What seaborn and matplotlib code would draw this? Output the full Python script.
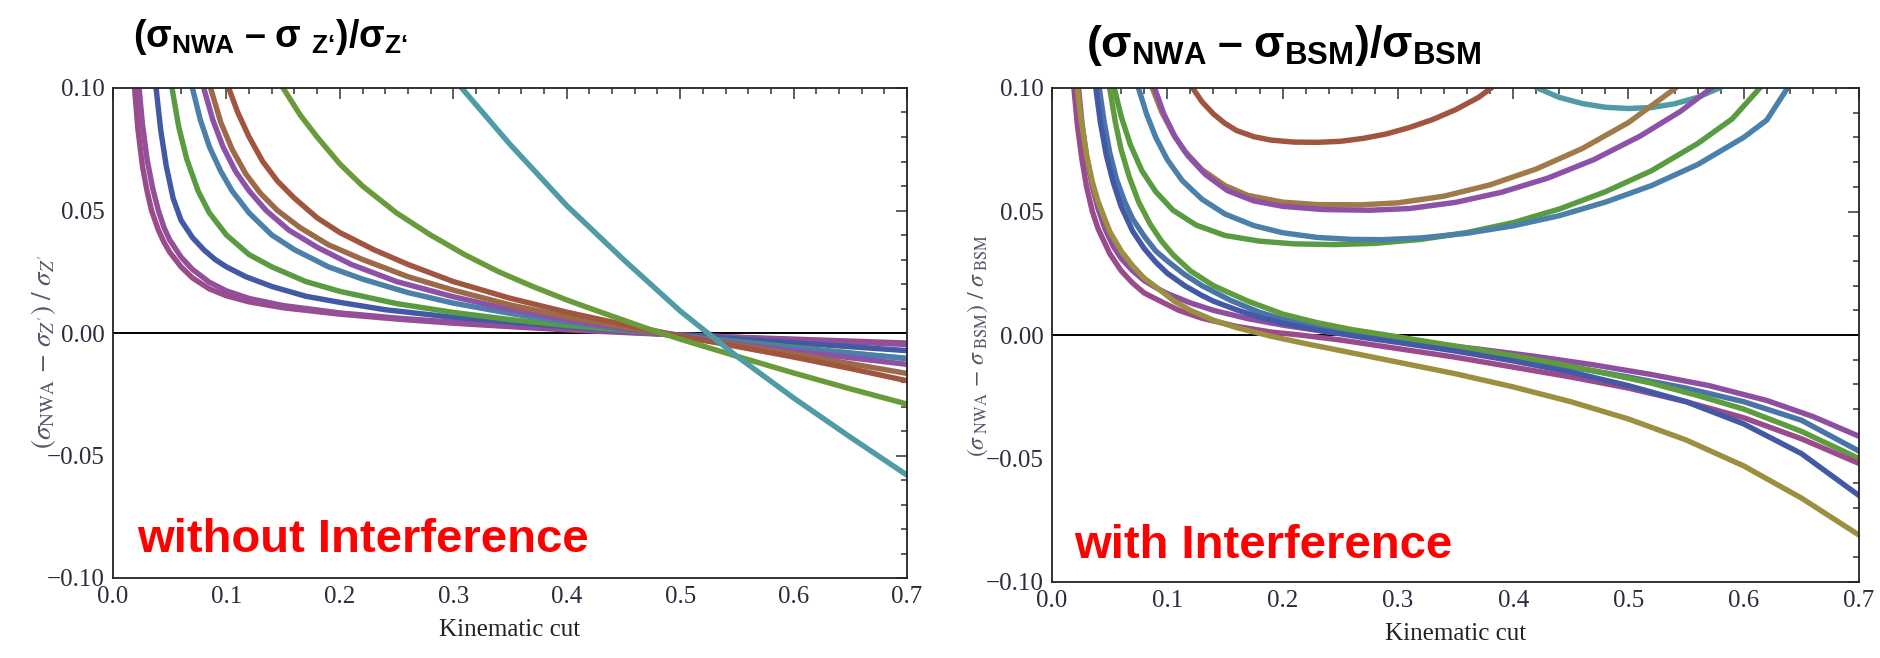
import numpy as np
import pandas as pd
import matplotlib
matplotlib.use("Agg")
import matplotlib.pyplot as plt
import seaborn as sns
from matplotlib.ticker import MultipleLocator, FuncFormatter

# ---------------- data: left panel (without interference) ----------------
L_magenta1_x = [0.017, 0.019, 0.022, 0.026, 0.03, 0.034, 0.04, 0.045, 0.05, 0.06, 0.07, 0.085, 0.1, 0.12, 0.15, 0.2, 0.25, 0.3, 0.35, 0.4, 0.46, 0.5, 0.55, 0.6, 0.65, 0.7]
L_magenta1_y = [0.115, 0.1, 0.083, 0.068, 0.058, 0.05, 0.042, 0.037, 0.033, 0.027, 0.0225, 0.018, 0.0152, 0.0127, 0.0103, 0.0077, 0.0057, 0.0040, 0.0026, 0.0013, 0.0, -0.0008, -0.0017, -0.0025, -0.0033, -0.0041]
L_magenta2_x = [0.021, 0.023, 0.026, 0.03, 0.035, 0.04, 0.045, 0.05, 0.06, 0.07, 0.085, 0.1, 0.12, 0.15, 0.2, 0.25, 0.3, 0.35, 0.4, 0.46, 0.5, 0.55, 0.6, 0.65, 0.7]
L_magenta2_y = [0.113, 0.1, 0.085, 0.071, 0.059, 0.05, 0.043, 0.038, 0.031, 0.026, 0.0207, 0.0172, 0.0141, 0.0112, 0.0082, 0.0061, 0.0044, 0.0029, 0.0016, 0.0002, -0.0008, -0.0018, -0.0028, -0.0037, -0.0047]
L_blue_x = [0.034, 0.038, 0.042, 0.047, 0.053, 0.06, 0.07, 0.08, 0.09, 0.1, 0.117, 0.14, 0.17, 0.2, 0.24, 0.3, 0.35, 0.4, 0.46, 0.5, 0.55, 0.6, 0.65, 0.7]
L_blue_y = [0.112, 0.1, 0.083, 0.068, 0.055, 0.046, 0.039, 0.034, 0.030, 0.027, 0.023, 0.019, 0.015, 0.0125, 0.0095, 0.0064, 0.0044, 0.0026, 0.0006, -0.0008, -0.0024, -0.0040, -0.0056, -0.0072]
L_green_x = [0.048, 0.052, 0.058, 0.065, 0.075, 0.085, 0.1, 0.12, 0.14, 0.17, 0.2, 0.25, 0.3, 0.35, 0.4, 0.45, 0.5, 0.55, 0.6, 0.65, 0.7]
L_green_y = [0.113, 0.1, 0.084, 0.071, 0.058, 0.049, 0.040, 0.032, 0.027, 0.021, 0.017, 0.012, 0.0084, 0.0055, 0.0031, 0.0011, -0.0012, -0.0035, -0.0058, -0.0081, -0.0105]
L_steel_x = [0.065, 0.07, 0.077, 0.085, 0.095, 0.105, 0.12, 0.14, 0.16, 0.19, 0.22, 0.26, 0.3, 0.35, 0.4, 0.45, 0.5, 0.55, 0.6, 0.65, 0.7]
L_steel_y = [0.112, 0.1, 0.087, 0.076, 0.066, 0.058, 0.049, 0.040, 0.034, 0.027, 0.022, 0.0165, 0.0122, 0.0080, 0.0045, 0.0015, -0.0013, -0.0038, -0.0061, -0.0083, -0.0103]
L_purple_x = [0.075, 0.08, 0.088, 0.097, 0.108, 0.12, 0.135, 0.155, 0.18, 0.21, 0.25, 0.3, 0.35, 0.4, 0.45, 0.5, 0.55, 0.6, 0.65, 0.7]
L_purple_y = [0.112, 0.1, 0.087, 0.076, 0.066, 0.058, 0.050, 0.042, 0.035, 0.028, 0.021, 0.0148, 0.0096, 0.0054, 0.0018, -0.0015, -0.0045, -0.0074, -0.0101, -0.0128]
L_gold_x = [0.081, 0.086, 0.095, 0.105, 0.117, 0.13, 0.145, 0.165, 0.19, 0.22, 0.26, 0.3, 0.35, 0.4, 0.45, 0.5, 0.55, 0.6, 0.65, 0.7]
L_gold_y = [0.112, 0.1, 0.086, 0.075, 0.065, 0.057, 0.050, 0.043, 0.036, 0.030, 0.023, 0.0175, 0.0115, 0.0066, 0.0025, -0.0015, -0.005, -0.0085, -0.0125, -0.0165]
L_brown_x = [0.097, 0.102, 0.11, 0.12, 0.132, 0.145, 0.16, 0.18, 0.2, 0.23, 0.26, 0.3, 0.35, 0.4, 0.45, 0.5, 0.55, 0.6, 0.65, 0.7]
L_brown_y = [0.108, 0.1, 0.090, 0.080, 0.070, 0.062, 0.055, 0.047, 0.041, 0.034, 0.028, 0.021, 0.0142, 0.0085, 0.0035, -0.0012, -0.0055, -0.0098, -0.0145, -0.0195]
L_green2_x = [0.14, 0.15, 0.165, 0.18, 0.2, 0.22, 0.25, 0.28, 0.31, 0.34, 0.37, 0.4, 0.43, 0.47, 0.5, 0.55, 0.6, 0.65, 0.7]
L_green2_y = [0.108, 0.1, 0.089, 0.080, 0.069, 0.060, 0.049, 0.040, 0.032, 0.025, 0.019, 0.0135, 0.0085, 0.002, -0.0025, -0.0095, -0.0163, -0.0228, -0.029]
L_cyan_x = [0.3, 0.35, 0.4, 0.45, 0.5, 0.55, 0.6, 0.65, 0.7]
L_cyan_y = [0.104, 0.077, 0.052, 0.030, 0.009, -0.0095, -0.0265, -0.0425, -0.058]

# ---------------- data: right panel (with interference) ----------------
# lower family
R_olive_x = [0.02, 0.022, 0.025, 0.03, 0.035, 0.04, 0.05, 0.06, 0.07, 0.08, 0.09, 0.106, 0.12, 0.14, 0.16, 0.19, 0.22, 0.25, 0.3, 0.35, 0.4, 0.45, 0.5, 0.55, 0.6, 0.65, 0.7]
R_olive_y = [0.110, 0.1, 0.088, 0.073, 0.062, 0.054, 0.042, 0.034, 0.028, 0.023, 0.0195, 0.0137, 0.0100, 0.0060, 0.0030, -0.0005, -0.0035, -0.0063, -0.011, -0.0157, -0.021, -0.027, -0.034, -0.0425, -0.053, -0.066, -0.081]
R_magenta_x = [0.017, 0.019, 0.022, 0.026, 0.03, 0.035, 0.04, 0.05, 0.06, 0.07, 0.08, 0.094, 0.11, 0.13, 0.16, 0.19, 0.215, 0.25, 0.3, 0.35, 0.4, 0.45, 0.5, 0.55, 0.6, 0.65, 0.7]
R_magenta_y = [0.112, 0.1, 0.085, 0.071, 0.060, 0.050, 0.043, 0.033, 0.026, 0.021, 0.017, 0.0137, 0.0100, 0.0068, 0.0035, 0.0012, 0.0, -0.0020, -0.0055, -0.0090, -0.0130, -0.0170, -0.0215, -0.0270, -0.0335, -0.042, -0.052]
R_purple_x = [0.021, 0.023, 0.026, 0.03, 0.035, 0.04, 0.046, 0.053, 0.06, 0.07, 0.08, 0.09, 0.1, 0.12, 0.14, 0.17, 0.2, 0.24, 0.28, 0.32, 0.37, 0.42, 0.47, 0.52, 0.57, 0.62, 0.66, 0.7]
R_purple_y = [0.112, 0.1, 0.086, 0.072, 0.060, 0.051, 0.043, 0.036, 0.031, 0.026, 0.022, 0.0192, 0.0168, 0.0130, 0.0100, 0.0066, 0.0040, 0.0012, -0.0008, -0.0030, -0.0057, -0.0087, -0.0121, -0.0160, -0.0205, -0.0265, -0.0330, -0.041]
R_blue_x = [0.035, 0.038, 0.042, 0.047, 0.053, 0.06, 0.07, 0.08, 0.09, 0.1, 0.115, 0.13, 0.14, 0.16, 0.18, 0.2, 0.23, 0.27, 0.3, 0.35, 0.4, 0.45, 0.5, 0.55, 0.6, 0.65, 0.7]
R_blue_y = [0.112, 0.1, 0.086, 0.073, 0.062, 0.052, 0.042, 0.035, 0.0295, 0.025, 0.020, 0.016, 0.0137, 0.0102, 0.0072, 0.0048, 0.0020, -0.0010, -0.0030, -0.0065, -0.0105, -0.0150, -0.0205, -0.027, -0.036, -0.048, -0.065]
R_steel_x = [0.038, 0.041, 0.045, 0.05, 0.056, 0.063, 0.07, 0.08, 0.09, 0.1, 0.115, 0.13, 0.155, 0.18, 0.2, 0.23, 0.26, 0.285, 0.32, 0.36, 0.4, 0.45, 0.5, 0.55, 0.6, 0.65, 0.7]
R_steel_y = [0.112, 0.1, 0.087, 0.074, 0.063, 0.054, 0.047, 0.040, 0.034, 0.030, 0.0245, 0.020, 0.0140, 0.0092, 0.0064, 0.0033, 0.0011, -0.0005, -0.0030, -0.0060, -0.0090, -0.0130, -0.0170, -0.0215, -0.0270, -0.0345, -0.047]
R_green_x = [0.047, 0.05, 0.055, 0.06, 0.067, 0.075, 0.085, 0.095, 0.105, 0.12, 0.14, 0.17, 0.2, 0.23, 0.26, 0.29, 0.33, 0.37, 0.42, 0.47, 0.52, 0.56, 0.6, 0.65, 0.7]
R_green_y = [0.112, 0.1, 0.086, 0.075, 0.064, 0.054, 0.045, 0.038, 0.0325, 0.026, 0.020, 0.0137, 0.0085, 0.0050, 0.0022, 0.0, -0.0030, -0.0060, -0.0100, -0.0145, -0.0195, -0.0245, -0.030, -0.039, -0.050]
# upper U-shaped family
R_ubrown_x = [0.115, 0.122, 0.13, 0.14, 0.15, 0.16, 0.175, 0.19, 0.21, 0.23, 0.25, 0.27, 0.29, 0.31, 0.33, 0.35, 0.37, 0.381, 0.39]
R_ubrown_y = [0.106, 0.1, 0.0945, 0.0895, 0.0857, 0.0828, 0.0803, 0.0789, 0.0781, 0.0780, 0.0784, 0.0796, 0.0814, 0.0840, 0.0872, 0.0912, 0.0962, 0.1, 0.104]
R_ucyan_x = [0.41, 0.421, 0.44, 0.46, 0.48, 0.5, 0.52, 0.54, 0.56, 0.579, 0.59]
R_ucyan_y = [0.103, 0.1, 0.0962, 0.0937, 0.0922, 0.0917, 0.0921, 0.0936, 0.0962, 0.1, 0.103]
R_ugold_x = [0.082, 0.087, 0.095, 0.105, 0.115, 0.13, 0.15, 0.17, 0.2, 0.23, 0.268, 0.3, 0.34, 0.38, 0.42, 0.46, 0.5, 0.541, 0.55]
R_ugold_y = [0.108, 0.1, 0.0905, 0.0815, 0.0745, 0.0670, 0.0605, 0.0565, 0.0538, 0.0528, 0.0527, 0.0535, 0.0562, 0.0608, 0.0672, 0.0755, 0.0860, 0.1, 0.104]
R_upurple_x = [0.084, 0.089, 0.097, 0.107, 0.118, 0.133, 0.152, 0.175, 0.2, 0.235, 0.275, 0.31, 0.35, 0.39, 0.43, 0.47, 0.51, 0.545, 0.572, 0.58]
R_upurple_y = [0.108, 0.1, 0.0895, 0.0800, 0.0725, 0.0650, 0.0585, 0.0543, 0.0521, 0.0508, 0.0505, 0.0512, 0.0537, 0.0578, 0.0635, 0.0710, 0.0805, 0.0905, 0.1, 0.103]
R_ugreen_x = [0.05, 0.054, 0.06, 0.068, 0.078, 0.09, 0.105, 0.125, 0.15, 0.18, 0.21, 0.245, 0.28, 0.32, 0.36, 0.4, 0.44, 0.48, 0.52, 0.56, 0.59, 0.614, 0.62]
R_ugreen_y = [0.109, 0.1, 0.0885, 0.0770, 0.0665, 0.0580, 0.0505, 0.0445, 0.0403, 0.0380, 0.0369, 0.0366, 0.0371, 0.0387, 0.0415, 0.0455, 0.0510, 0.0580, 0.0665, 0.0775, 0.0875, 0.1, 0.103]
R_usteel_x = [0.07, 0.075, 0.082, 0.09, 0.1, 0.113, 0.13, 0.15, 0.175, 0.2, 0.23, 0.26, 0.287, 0.32, 0.36, 0.4, 0.44, 0.48, 0.52, 0.56, 0.6, 0.62, 0.638, 0.645]
R_usteel_y = [0.109, 0.1, 0.0895, 0.0800, 0.0710, 0.0625, 0.0550, 0.0490, 0.0443, 0.0414, 0.0395, 0.0387, 0.0386, 0.0393, 0.0412, 0.0442, 0.0483, 0.0538, 0.0605, 0.0690, 0.0800, 0.0870, 0.1, 0.104]

left_curves = [
    ("L_magenta1", L_magenta1_x, L_magenta1_y, "#9b4a8c"),
    ("L_magenta2", L_magenta2_x, L_magenta2_y, "#944f9a"),
    ("L_blue", L_blue_x, L_blue_y, "#4459a6"),
    ("L_green", L_green_x, L_green_y, "#589b40"),
    ("L_steel", L_steel_x, L_steel_y, "#4a80aa"),
    ("L_purple", L_purple_x, L_purple_y, "#8d52a8"),
    ("L_gold", L_gold_x, L_gold_y, "#9c6a48"),
    ("L_brown", L_brown_x, L_brown_y, "#a1553f"),
    ("L_green2", L_green2_x, L_green2_y, "#6a9b3a"),
    ("L_cyan", L_cyan_x, L_cyan_y, "#4f9ba6"),
]
right_curves = [
    ("R_ubrown", R_ubrown_x, R_ubrown_y, "#a1553f"),
    ("R_ucyan", R_ucyan_x, R_ucyan_y, "#4f9ba6"),
    ("R_ugold", R_ugold_x, R_ugold_y, "#a07a48"),
    ("R_upurple", R_upurple_x, R_upurple_y, "#8d52a8"),
    ("R_ugreen", R_ugreen_x, R_ugreen_y, "#589b40"),
    ("R_usteel", R_usteel_x, R_usteel_y, "#4a80aa"),
    ("R_purple", R_purple_x, R_purple_y, "#8f4fa0"),
    ("R_steel", R_steel_x, R_steel_y, "#4a74a8"),
    ("R_green", R_green_x, R_green_y, "#5e9c3e"),
    ("R_magenta", R_magenta_x, R_magenta_y, "#9b4a8c"),
    ("R_blue", R_blue_x, R_blue_y, "#4459a6"),
    ("R_olive", R_olive_x, R_olive_y, "#9c9040"),
]

x_ticks = [0.0, 0.1, 0.2, 0.3, 0.4, 0.5, 0.6, 0.7]
y_ticks = [-0.10, -0.05, 0.00, 0.05, 0.10]


def long_frame(curves):
    rows = []
    for name, xs, ys, _ in curves:
        for i, (a, b) in enumerate(zip(xs, ys)):
            rows.append({"curve": name, "order": i, "x": a, "y": b})
    return pd.DataFrame(rows)


sns.set_theme(style="white")
plt.rcParams["font.family"] = ["Liberation Serif", "DejaVu Serif"]
plt.rcParams["mathtext.fontset"] = "custom"
plt.rcParams["mathtext.rm"] = "Liberation Sans:bold"
plt.rcParams["mathtext.it"] = "Liberation Sans:bold"
plt.rcParams["mathtext.bf"] = "Liberation Sans:bold"
plt.rcParams["mathtext.sf"] = "Liberation Sans:bold"

W, H = 1881, 658
fig = plt.figure(figsize=(W / 100, H / 100), dpi=100)
fig.patch.set_facecolor("white")


def px_axes(x0, y0, x1, y1):
    return fig.add_axes([x0 / W, 1 - y1 / H, (x1 - x0) / W, (y1 - y0) / H])


axL = px_axes(113, 88, 907, 578)
axR = px_axes(1052, 88, 1859, 582)

tick_color = "#2c2c3c"
xfmt = FuncFormatter(lambda v, p: f"{v:.1f}")
yfmt = FuncFormatter(lambda v, p: f"{v:.2f}".replace("-", "\u2212"))
for ax, curves in ((axL, left_curves), (axR, right_curves)):
    ax.set_facecolor("white")
    ax.axhline(0, color="black", lw=1.4, zorder=1)
    df = long_frame(curves)
    pal = {n: c for n, _, _, c in curves}
    sns.lineplot(data=df, x="x", y="y", hue="curve", palette=pal, units="curve",
                 estimator=None, sort=False, legend=False, lw=3.9, ax=ax, zorder=2)
    ax.set_xlim(0, 0.7)
    ax.set_ylim(-0.1, 0.1)
    ax.set_xticks(x_ticks)
    ax.set_yticks(y_ticks)
    ax.xaxis.set_major_formatter(xfmt)
    ax.yaxis.set_major_formatter(yfmt)
    ax.xaxis.set_minor_locator(MultipleLocator(0.02))
    ax.yaxis.set_minor_locator(MultipleLocator(0.01))
    ax.tick_params(which="both", direction="in", top=True, right=True,
                   color="#333333", width=1.1, labelsize=18, labelcolor=tick_color)
    ax.tick_params(which="major", length=8, pad=6)
    ax.tick_params(which="minor", length=4)
    for s in ax.spines.values():
        s.set_color("#222222")
        s.set_linewidth(1.3)
    ax.set_xlabel("Kinematic cut", fontsize=18, color="#222222", labelpad=8)
    ax.set_ylabel("")

# y labels (Mathematica style, serif)
fig.text(44 / W, 1 - 352 / H, r"$(\sigma_{\rm NWA}\,-\,\sigma_{Z'})\ /\ \sigma_{Z'}$",
         rotation=90, ha="center", va="center", fontsize=19.5, color="#55556a",
         math_fontfamily="stix")
fig.text(978 / W, 1 - 346 / H, r"$(\sigma_{\rm\ NWA}\,-\,\sigma_{\rm\ BSM})\ /\ \sigma_{\rm\ BSM}$",
         rotation=90, ha="center", va="center", fontsize=17, color="#55556a",
         math_fontfamily="stix")

# titles (bold sans)
fig.text(270 / W, 1 - 37 / H, r"$(σ_{NWA}\;–\;σ\ {}_{Z‘})/σ_{Z‘}$",
         ha="center", va="center", fontsize=27, color="black")
fig.text(1284 / W, 1 - 45 / H, r"$(σ_{NWA}\;–\;σ_{BSM})/σ_{BSM}$",
         ha="center", va="center", fontsize=32, color="black")

# red annotations
axL.text(0.031, 0.078, "without Interference", transform=axL.transAxes,
         ha="left", va="center", fontsize=34, fontweight="bold", color="#ff0000",
         family="Liberation Sans")
axR.text(0.027, 0.073, "with Interference", transform=axR.transAxes,
         ha="left", va="center", fontsize=34, fontweight="bold", color="#ff0000",
         family="Liberation Sans")

fig.savefig("out.png", dpi=100, facecolor="white")
